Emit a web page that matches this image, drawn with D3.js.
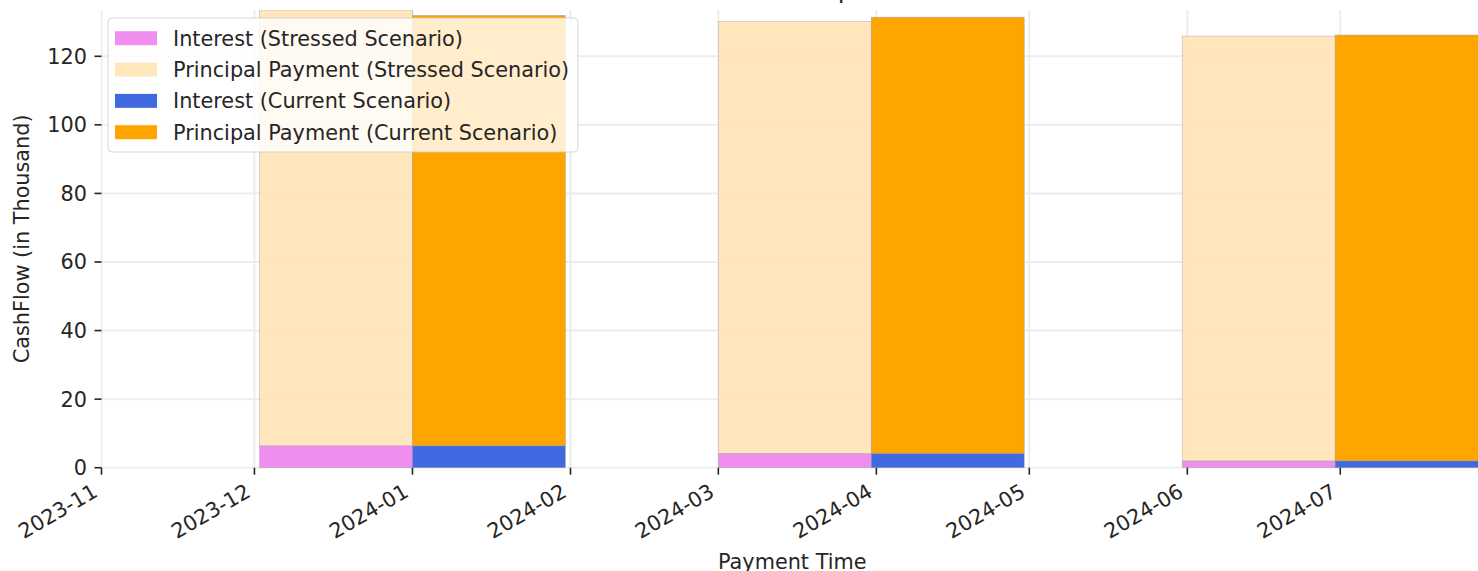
<!DOCTYPE html>
<html>
<head>
<meta charset="utf-8">
<script src="https://cdn.jsdelivr.net/npm/d3@7"></script>
<style>
  html, body { margin: 0; padding: 0; background: #ffffff; }
  svg { display: block; font-family: "DejaVu Sans", sans-serif; }
</style>
</head>
<body>
<svg id="chart" width="1478" height="571"></svg>
<script>
// ---- data ----
const paymentDates = ["2024-01-01", "2024-03-31", "2024-06-30"];
const stressedInterest = [6.4, 4.2, 2.0];
const stressedPrincipal = [127.1, 125.9, 123.9];
const currentInterest = [6.4, 4.2, 2.0];
const currentPrincipal = [125.5, 127.2, 124.2];
const xTickLabels = ["2023-11", "2023-12", "2024-01", "2024-02", "2024-03", "2024-04", "2024-05", "2024-06", "2024-07"];
const yTickValues = [0, 20, 40, 60, 80, 100, 120];
const xLimits = ["2023-11-01", "2024-07-29"];
const barWidthDays = 30;
const legendLabels = ["Interest (Stressed Scenario)", "Principal Payment (Stressed Scenario)", "Interest (Current Scenario)", "Principal Payment (Current Scenario)"];
const legendColors = ["#EE82EE", "#FFE4B5", "#4169E1", "#FFA500"];
const titleText = "CashFlow Comparison";
const xLabel = "Payment Time";
const yLabel = "CashFlow (in Thousand)";

// ---- layout ----
const W = 1478, H = 571;
const FS = 20.8;
const plot = { left: 101.5, right: 1483, top: 10, bottom: 467.7 };
const parse = d3.utcParse("%Y-%m-%d");
const parseMonth = d3.utcParse("%Y-%m");
const DAY = 86400000;

const svg = d3.select("#chart");
svg.append("rect").attr("width", W).attr("height", H).attr("fill", "#fff");

const x = d3.scaleUtc().domain(xLimits.map(parse)).range([plot.left, plot.right]);
const stressedTotals = stressedInterest.map((v, i) => v + stressedPrincipal[i]);
const currentTotals = currentInterest.map((v, i) => v + currentPrincipal[i]);
const y = d3.scaleLinear().domain([0, d3.max(stressedTotals.concat(currentTotals))]).range([plot.bottom, plot.top]);

svg.append("defs").append("clipPath").attr("id", "clip")
  .append("rect").attr("x", plot.left - 1).attr("y", plot.top).attr("width", plot.right - plot.left + 2).attr("height", plot.bottom - plot.top + 1);

const textColor = "#262626";
const gridColor = "#ededed";

// grid
const tickDates = xTickLabels.map(parseMonth);
const grid = svg.append("g").attr("clip-path", "url(#clip)");
grid.selectAll("line.v").data(tickDates).join("line")
  .attr("x1", d => x(d)).attr("x2", d => x(d))
  .attr("y1", plot.top).attr("y2", plot.bottom)
  .attr("stroke", gridColor).attr("stroke-width", 2);
grid.selectAll("line.h").data(yTickValues).join("line")
  .attr("x1", plot.left).attr("x2", plot.right)
  .attr("y1", d => y(d)).attr("y2", d => y(d))
  .attr("stroke", gridColor).attr("stroke-width", 2);

// bars
const bars = svg.append("g").attr("clip-path", "url(#clip)");
const rows = paymentDates.map((d, i) => ({ date: parse(d), i }));
function drawStack(offsetDays, interest, principal, cI, cP, op) {
  const g = bars.append("g").attr("opacity", op);
  rows.forEach(r => {
    const x0 = x(new Date(r.date.getTime() + offsetDays * DAY));
    const x1 = x(new Date(r.date.getTime() + (offsetDays + barWidthDays) * DAY));
    const iv = interest[r.i], pv = principal[r.i];
    g.append("rect").attr("x", x0).attr("width", x1 - x0)
      .attr("y", y(iv)).attr("height", y(0) - y(iv))
      .attr("fill", cI).attr("stroke", "#9a9a9a").attr("stroke-width", 0.6).attr("stroke-opacity", 0.7);
    g.append("rect").attr("x", x0).attr("width", x1 - x0)
      .attr("y", y(iv + pv)).attr("height", y(iv) - y(iv + pv))
      .attr("fill", cP).attr("stroke", "#9a9a9a").attr("stroke-width", 0.6).attr("stroke-opacity", 0.7);
  });
}
drawStack(-barWidthDays, stressedInterest, stressedPrincipal, legendColors[0], legendColors[1], 0.9);
drawStack(0, currentInterest, currentPrincipal, legendColors[2], legendColors[3], 1);

// x axis ticks + labels
const xAxisG = svg.append("g");
xAxisG.selectAll("line").data(tickDates).join("line")
  .attr("x1", d => x(d)).attr("x2", d => x(d))
  .attr("y1", plot.bottom).attr("y2", plot.bottom + 7)
  .attr("stroke", textColor).attr("stroke-width", 1.6);
xAxisG.selectAll("text").data(tickDates).join("text")
  .attr("transform", d => `translate(${x(d) - 2.5},${plot.bottom + 14.5 + 13.5}) rotate(-30)`)
  .attr("text-anchor", "end")
  .attr("font-size", FS).attr("fill", textColor)
  .text((d, i) => xTickLabels[i]);

// y axis ticks + labels
const yAxisG = svg.append("g");
yAxisG.selectAll("line").data(yTickValues).join("line")
  .attr("x1", plot.left - 7).attr("x2", plot.left)
  .attr("y1", d => y(d)).attr("y2", d => y(d))
  .attr("stroke", textColor).attr("stroke-width", 1.6);
yAxisG.selectAll("text").data(yTickValues).join("text")
  .attr("x", plot.left - 14.5).attr("y", d => y(d)).attr("dy", "0.36em")
  .attr("text-anchor", "end").attr("font-size", FS).attr("fill", textColor)
  .text(d => d);

// axis labels + title
svg.append("text").attr("x", (plot.left + plot.right) / 2).attr("y", 569)
  .attr("text-anchor", "middle").attr("font-size", FS).attr("fill", textColor).text(xLabel);
svg.append("text").attr("transform", `translate(29,${(plot.top + plot.bottom) / 2}) rotate(-90)`)
  .attr("text-anchor", "middle").attr("font-size", FS).attr("fill", textColor).text(yLabel);
svg.append("text").attr("x", (plot.left + plot.right) / 2).attr("y", -2)
  .attr("text-anchor", "middle").attr("font-size", 25).attr("fill", textColor).text(titleText);

// legend
const lg = svg.append("g");
lg.append("rect").attr("x", 108).attr("y", 18).attr("width", 470).attr("height", 134).attr("rx", 4)
  .attr("fill", "#fff").attr("fill-opacity", 0.8).attr("stroke", "#cccccc").attr("stroke-opacity", 0.8);
const rowY = d3.scalePoint().domain(d3.range(legendLabels.length)).range([38.2, 132.2]);
legendLabels.forEach((lab, i) => {
  lg.append("rect").attr("x", 115).attr("y", rowY(i) - 7).attr("width", 42).attr("height", 14)
    .attr("fill", legendColors[i]).attr("opacity", i < 2 ? 0.9 : 1);
  lg.append("text").attr("x", 173).attr("y", rowY(i) + 7.5).attr("font-size", FS).attr("fill", textColor).text(lab);
});
</script>
</body>
</html>
